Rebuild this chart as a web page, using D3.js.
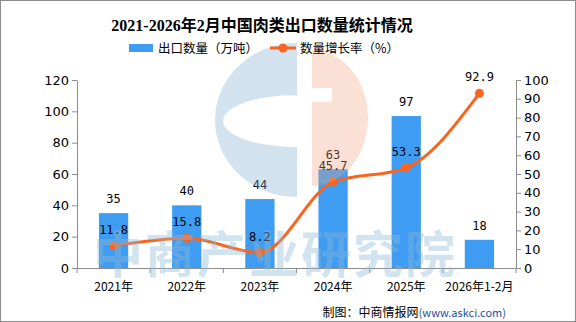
<!DOCTYPE html>
<html><head><meta charset="utf-8">
<script src="https://cdn.jsdelivr.net/npm/d3@7"></script>
<style>body{margin:0;background:#fff}svg{display:block}</style>
</head><body>
<script>
const categories = ["2021年","2022年","2023年","2024年","2025年","2026年1-2月"];
const volume = [35,40,44,63,97,18];
const growth = [11.8,15.8,8.2,45.7,53.3,92.9];
const leftTicks = [0,20,40,60,80,100,120];
const rightTicks = [0,10,20,30,40,50,60,70,80,90,100];

const W=576,H=322;
const m={l:77,r:60,t:80,b:54};
const svg=d3.select("body").append("svg").attr("width",W).attr("height",H);
svg.append("rect").attr("x",0.5).attr("y",0.5).attr("width",W-1).attr("height",H-1).attr("fill","#fff").attr("stroke","#8c8c8c");

const x=d3.scaleBand().domain(categories).range([m.l,W-m.r]).paddingInner(0.6).paddingOuter(0.3);
const yL=d3.scaleLinear().domain([0,120]).range([H-m.b,m.t]);
const yR=d3.scaleLinear().domain([0,100]).range([H-m.b,m.t]);
const font='"Noto Sans CJK SC","Noto Sans",sans-serif';
const axColor="#8c8c8c";

// bars
svg.append("g").selectAll("rect").data(volume).join("rect")
  .attr("x",(d,i)=>x(categories[i])).attr("width",x.bandwidth())
  .attr("y",d=>yL(d)).attr("height",d=>yL(0)-yL(d)).attr("fill","#3e9cf2");

// axes
function styleAxis(g){g.selectAll("path,line").attr("stroke",axColor);g.selectAll("text").attr("fill","#000").style("font-family",'"DejaVu Sans",sans-serif');}
const gL=svg.append("g").attr("transform",`translate(${m.l},0)`).call(d3.axisLeft(yL).tickValues(leftTicks).tickSize(5).tickSizeOuter(0).tickPadding(3));
styleAxis(gL);gL.selectAll("text").style("font-size","13px");
const gR=svg.append("g").attr("transform",`translate(${W-m.r},0)`).call(d3.axisRight(yR).tickValues(rightTicks).tickSize(5).tickSizeOuter(0).tickPadding(3));
styleAxis(gR);gR.selectAll("text").style("font-size","13px");
const xb=d3.scaleBand().domain(categories).range([m.l,W-m.r]);
const gB=svg.append("g").attr("transform",`translate(0,${H-m.b})`).call(d3.axisBottom(xb).tickSize(0).tickPadding(14));
styleAxis(gB);gB.selectAll("text").style("font-size","12px").style("font-family",font);
gB.selectAll(".tk").data(d3.range(categories.length+1)).join("line")
  .attr("x1",i=>m.l+i*xb.step()).attr("x2",i=>m.l+i*xb.step()).attr("y1",0).attr("y2",5).attr("stroke",axColor);

// line
const cx=(i)=>x(categories[i])+x.bandwidth()/2;
const line=d3.line().x((d,i)=>cx(i)).y(d=>yR(d)).curve(d3.curveMonotoneX);
const orange="#f9651e";
svg.append("path").datum(growth).attr("d",line).attr("fill","none").attr("stroke",orange).attr("stroke-width",3);
svg.append("g").selectAll("circle").data(growth).join("circle").attr("cx",(d,i)=>cx(i)).attr("cy",d=>yR(d)).attr("r",4.5).attr("fill",orange);

// labels
const lblFont='"DejaVu Sans Mono","Liberation Mono",monospace';
svg.append("g").selectAll("text").data(volume).join("text")
  .attr("x",(d,i)=>cx(i)).attr("y",d=>yL(d)-10).attr("text-anchor","middle")
  .style("font-family",lblFont).style("font-size","12px").text(d=>d);
svg.append("g").selectAll("text").data(growth).join("text")
  .attr("x",(d,i)=>cx(i)).attr("y",d=>yR(d)-12).attr("text-anchor","middle")
  .style("font-family",lblFont).style("font-size","12px").text(d=>d.toFixed(1));

// watermark
const wm=svg.append("g");
const bc=297, by=120;
wm.append("path").attr("fill","#7fb0d0").attr("fill-opacity",0.35).attr("fill-rule","evenodd")
  .attr("d",`M${bc},${by-77} A82,77 0 0 0 ${bc},${by+77} Z M${bc},${by-25} A74,26 0 0 0 ${bc},${by+27} Z`);
wm.append("path").attr("fill","#f2a27c").attr("fill-opacity",0.32)
  .attr("d",`M312,50 A56,68 0 0 1 312,186 Z`);
wm.append("rect").attr("x",312).attr("y",88).attr("width",20).attr("height",14).attr("fill","#fff");
wm.append("text").attr("x",275).attr("y",273).attr("text-anchor","middle")
  .style("font-family",font).style("font-weight","bold").style("font-size","50px")
  .attr("fill","#8db8d6").attr("fill-opacity",0.4).attr("letter-spacing","2").text("中商产业研究院");

// title
svg.append("text").attr("x",262).attr("y",31).attr("text-anchor","middle")
  .style("font-family",'"Liberation Serif","Noto Sans CJK SC",serif').style("font-weight","bold").style("font-size","16px")
  .text("2021-2026年2月中国肉类出口数量统计情况");

// legend
svg.append("rect").attr("x",129).attr("y",44).attr("width",24).attr("height",8).attr("fill","#3e9cf2");
svg.append("text").attr("x",158).attr("y",53).style("font-family",font).style("font-size","12.5px").text("出口数量（万吨）");
svg.append("line").attr("x1",270).attr("x2",296).attr("y1",48).attr("y2",48).attr("stroke",orange).attr("stroke-width",3);
svg.append("circle").attr("cx",283).attr("cy",48).attr("r",4.5).attr("fill",orange);
svg.append("text").attr("x",300).attr("y",53).style("font-family",font).style("font-size","12.5px").text("数量增长率（%）");

// footer
const ft=svg.append("text").attr("x",506).attr("y",317).attr("text-anchor","end").style("font-family",font).style("font-size","12px");
ft.append("tspan").attr("fill","#000").text("制图：中商情报网");
ft.append("tspan").attr("fill","#1f4f9c").style("font-size","11px").text("(www.askci.com)");
</script>
</body></html>
